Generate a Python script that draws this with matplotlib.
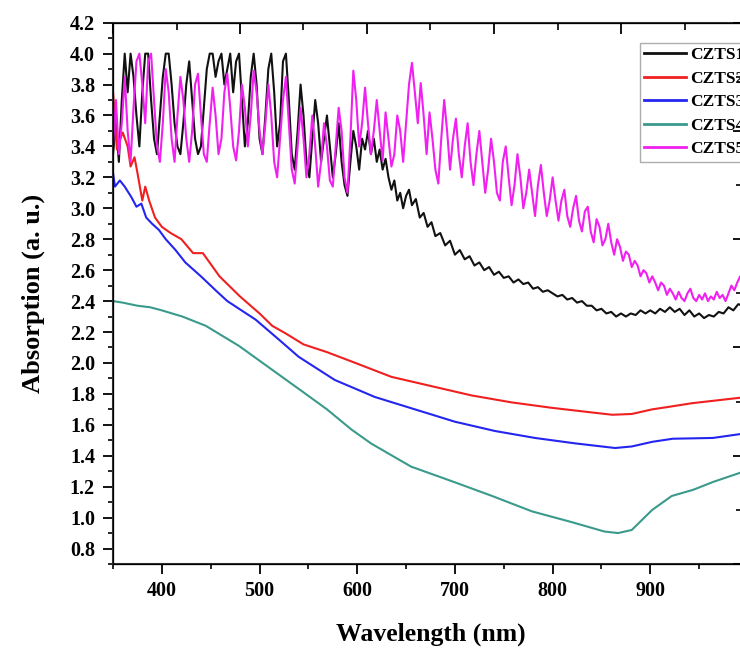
import numpy as np
import matplotlib
matplotlib.use("Agg")
import matplotlib.pyplot as plt
from matplotlib.ticker import MultipleLocator, FixedLocator, NullFormatter, FormatStrFormatter

plt.rcParams['font.family'] = ['Liberation Serif', 'DejaVu Serif']
plt.rcParams['font.weight'] = 'bold'

# ---- data (wavelength nm, absorption a.u.) ----
czts1_nm = [350, 353, 356, 359, 362, 365, 368, 371, 374, 377, 380, 383, 386, 389, 392, 395, 398,
            401, 404, 407, 410, 413, 416, 419, 422, 425, 428, 431, 434, 437, 440, 443, 446, 449,
            452, 455, 458, 461, 464, 467, 470, 473, 476, 479, 482, 485, 488, 491, 494, 497, 500,
            503, 506, 509, 512, 515, 518, 521, 524, 527, 530, 533, 536, 539, 542, 545, 548, 551,
            554, 557, 560, 563, 566, 569, 572, 575, 578, 581, 584, 587, 590, 593, 596, 599, 602,
            605, 608, 611, 614, 617, 620, 623, 626, 629, 632, 635, 638, 641, 644, 647, 650, 653,
            656, 660, 664, 668, 672, 676, 680, 685, 690, 695, 700, 705, 710, 715, 720, 725, 730,
            735, 740, 745, 750, 755, 760, 765, 770, 775, 780, 785, 790, 795, 800, 805, 810, 815,
            820, 825, 830, 835, 840, 845, 850, 855, 860, 865, 870, 875, 880, 885, 890, 895, 900,
            905, 910, 915, 920, 925, 930, 935, 940, 945, 950, 955, 960, 965, 970, 975, 980, 985,
            990, 995, 1000]
czts1_abs = [3.35, 3.55, 3.30, 3.70, 4.00, 3.75, 4.00, 3.85, 3.60, 3.40, 3.75, 4.00, 4.00, 3.70,
             3.45, 3.35, 3.60, 3.85, 4.00, 4.00, 3.80, 3.55, 3.40, 3.35, 3.55, 3.80, 3.95, 3.70,
             3.45, 3.35, 3.40, 3.65, 3.90, 4.00, 4.00, 3.85, 3.95, 4.00, 3.80, 3.90, 4.00, 3.75,
             3.95, 4.00, 3.70, 3.40, 3.55, 3.85, 4.00, 3.80, 3.45, 3.35, 3.60, 3.90, 4.00, 3.75,
             3.40, 3.55, 3.95, 4.00, 3.70, 3.35, 3.25, 3.50, 3.80, 3.60, 3.30, 3.20, 3.45, 3.70,
             3.55, 3.30, 3.45, 3.60, 3.40, 3.20, 3.35, 3.55, 3.30, 3.15, 3.08, 3.30, 3.50, 3.40,
             3.25, 3.45, 3.38, 3.50, 3.35, 3.45, 3.30, 3.38, 3.25, 3.32, 3.20, 3.12, 3.18, 3.05,
             3.10, 3.00, 3.08, 3.12, 3.02, 3.06, 2.94, 2.97, 2.88, 2.91, 2.82, 2.84, 2.76, 2.79,
             2.70, 2.73, 2.67, 2.69, 2.63, 2.65, 2.60, 2.62, 2.57, 2.59, 2.55, 2.56, 2.52, 2.54,
             2.51, 2.52, 2.48, 2.49, 2.46, 2.47, 2.45, 2.43, 2.44, 2.41, 2.42, 2.39, 2.40, 2.37,
             2.37, 2.34, 2.35, 2.32, 2.33, 2.30, 2.32, 2.30, 2.32, 2.31, 2.34, 2.32, 2.34, 2.32,
             2.35, 2.33, 2.36, 2.33, 2.35, 2.31, 2.34, 2.30, 2.32, 2.29, 2.31, 2.30, 2.33, 2.32,
             2.36, 2.34, 2.38, 2.37, 2.39]

czts2_nm = [350, 352, 354, 357, 360, 365, 368, 372, 375, 380, 383, 387, 393, 400, 409, 420, 432,
            442, 459, 480, 500, 513, 527, 545, 569, 594, 635, 676, 717, 758, 799, 840, 861, 881,
            902, 923, 943, 964, 992, 1000]
czts2_abs = [3.75, 3.59, 3.38, 3.44, 3.49, 3.40, 3.27, 3.33, 3.23, 3.05, 3.14, 3.05, 2.94, 2.88,
             2.84, 2.80, 2.71, 2.71, 2.56, 2.43, 2.32, 2.24, 2.19, 2.12, 2.07, 2.01, 1.91, 1.85,
             1.79, 1.745, 1.71, 1.68, 1.665, 1.67, 1.70, 1.72, 1.74, 1.755, 1.775, 1.78]

czts3_nm = [350, 352, 357, 362, 369, 374, 379, 384, 390, 397, 404, 414, 424, 440, 455, 467, 496,
            520, 540, 577, 618, 659, 700, 741, 782, 823, 864, 881, 902, 923, 964, 992, 1000]
czts3_abs = [3.23, 3.14, 3.18, 3.14, 3.07, 3.01, 3.03, 2.94, 2.90, 2.86, 2.80, 2.73, 2.65, 2.56,
             2.47, 2.40, 2.28, 2.15, 2.04, 1.89, 1.78, 1.70, 1.62, 1.56, 1.515, 1.48, 1.45,
             1.46, 1.49, 1.51, 1.515, 1.54, 1.55]

czts4_nm = [350, 360, 375, 388, 400, 421, 445, 479, 512, 545, 569, 594, 614, 655, 697, 738, 779,
            820, 853, 867, 881, 902, 922, 944, 964, 992, 1000]
czts4_abs = [2.40, 2.39, 2.37, 2.36, 2.34, 2.30, 2.24, 2.11, 1.96, 1.81, 1.70, 1.57, 1.48, 1.33,
             1.235, 1.14, 1.04, 0.97, 0.91, 0.90, 0.92, 1.05, 1.14, 1.18, 1.23, 1.29, 1.30]

czts5_nm = [350, 353, 356, 359, 362, 365, 368, 371, 374, 377, 380, 383, 386, 389, 392, 395, 398,
            401, 404, 407, 410, 413, 416, 419, 422, 425, 428, 431, 434, 437, 440, 443, 446, 449,
            452, 455, 458, 461, 464, 467, 470, 473, 476, 479, 482, 485, 488, 491, 494, 497, 500,
            503, 506, 509, 512, 515, 518, 521, 524, 527, 530, 533, 536, 539, 542, 545, 548, 551,
            554, 557, 560, 563, 566, 569, 572, 575, 578, 581, 584, 587, 590, 593, 596, 599, 602,
            605, 608, 611, 614, 617, 620, 623, 626, 629, 632, 635, 638, 641, 644, 647, 650, 653,
            656, 659, 662, 665, 668, 671, 674, 677, 680, 683, 686, 689, 692, 695, 698, 701, 704,
            707, 710, 713, 716, 719, 722, 725, 728, 731, 734, 737, 740, 743, 746, 749, 752, 755,
            758, 761, 764, 767, 770, 773, 776, 779, 782, 785, 788, 791, 794, 797, 800, 803, 806,
            809, 812, 815, 818, 821, 824, 827, 830, 833, 836, 839, 842, 845, 848, 851, 854, 857,
            860, 863, 866, 869, 872, 875, 878, 881, 884, 887, 890, 893, 896, 899, 902, 905, 908,
            911, 914, 917, 920, 923, 926, 929, 932, 935, 938, 941, 944, 947, 950, 953, 956, 959,
            962, 965, 968, 971, 974, 977, 980, 983, 986, 989, 992, 995, 998, 1000]
czts5_abs = [3.40, 3.70, 3.35, 3.55, 3.85, 3.50, 3.30, 3.65, 3.95, 4.00, 3.80, 3.55, 3.95, 4.00,
             3.70, 3.40, 3.30, 3.55, 3.90, 3.75, 3.45, 3.30, 3.60, 3.85, 3.70, 3.45, 3.30, 3.50,
             3.80, 3.87, 3.60, 3.35, 3.30, 3.55, 3.78, 3.60, 3.35, 3.45, 3.75, 3.87, 3.65, 3.40,
             3.31, 3.50, 3.80, 3.65, 3.40, 3.60, 3.89, 3.75, 3.50, 3.35, 3.55, 3.80, 3.60, 3.30,
             3.20, 3.45, 3.70, 3.85, 3.55, 3.25, 3.16, 3.40, 3.65, 3.45, 3.20, 3.35, 3.60, 3.40,
             3.14, 3.30, 3.55, 3.40, 3.18, 3.14, 3.40, 3.65, 3.50, 3.20, 3.10, 3.45, 3.89, 3.70,
             3.40, 3.55, 3.78, 3.55, 3.35, 3.50, 3.70, 3.50, 3.31, 3.62, 3.45, 3.27, 3.35, 3.60,
             3.50, 3.30, 3.55, 3.80, 3.94, 3.75, 3.55, 3.81, 3.60, 3.35, 3.62, 3.45, 3.25, 3.16,
             3.45, 3.70, 3.50, 3.25, 3.45, 3.58, 3.35, 3.20, 3.40, 3.55, 3.30, 3.15, 3.35, 3.50,
             3.30, 3.10, 3.25, 3.45, 3.30, 3.10, 3.05, 3.30, 3.40, 3.20, 3.02, 3.15, 3.35, 3.20,
             3.00, 3.10, 3.25, 3.10, 2.95, 3.15, 3.28, 3.10, 2.95, 3.05, 3.20, 3.05, 2.92, 3.05,
             3.12, 2.95, 2.88, 3.00, 3.08, 2.92, 2.85, 2.98, 3.01, 2.85, 2.78, 2.93, 2.88, 2.76,
             2.80, 2.90, 2.78, 2.70, 2.80, 2.75, 2.66, 2.72, 2.70, 2.62, 2.66, 2.63, 2.56, 2.60,
             2.58, 2.52, 2.56, 2.52, 2.47, 2.52, 2.50, 2.44, 2.48, 2.45, 2.41, 2.46, 2.42, 2.40,
             2.45, 2.48, 2.42, 2.40, 2.44, 2.41, 2.45, 2.40, 2.43, 2.41, 2.46, 2.42, 2.44, 2.40,
             2.45, 2.50, 2.47, 2.52, 2.56, 2.54, 2.58, 2.57]

xtick_vals = [400, 500, 600, 700, 800, 900]

series = [("CZTS1", czts1_nm, czts1_abs, "#111111"),
          ("CZTS2", czts2_nm, czts2_abs, "#f02020"),
          ("CZTS3", czts3_nm, czts3_abs, "#2525f0"),
          ("CZTS4", czts4_nm, czts4_abs, "#3a9a8c"),
          ("CZTS5", czts5_nm, czts5_abs, "#f020f0")]

fig = plt.figure(figsize=(7.4, 6.48), dpi=100)
ax = fig.add_axes([113 / 740, 1 - 564 / 648, 635 / 740, 541.3 / 648])

for name, x, y, col in series:
    ax.plot(x, y, color=col, lw=1.5, label=name)

ax.set_xlim(350, 1000)
ax.set_ylim(0.7, 4.2)
ax.xaxis.set_major_locator(FixedLocator(xtick_vals))
ax.xaxis.set_minor_locator(MultipleLocator(50))
ax.yaxis.set_major_locator(MultipleLocator(0.2))
ax.yaxis.set_minor_locator(MultipleLocator(0.1))
ax.yaxis.set_major_formatter(FormatStrFormatter('%.1f'))
ax.tick_params(which='major', direction='out', length=7, width=1.3, labelsize=14.5, pad=5)
ax.tick_params(axis='y', which='major', pad=6)
ax.tick_params(which='minor', direction='out', length=3.5, width=1.2)
for lab in ax.get_xticklabels() + ax.get_yticklabels():
    lab.set_fontweight('bold')
for sp in ax.spines.values():
    sp.set_linewidth(1.5)
    sp.set_color('#333333')

# top axis ticks (no labels)
axt = ax.twiny()
axt.set_xlim(350, 1000)
axt.xaxis.set_major_locator(FixedLocator(np.arange(350, 1001, 130)))
axt.xaxis.set_minor_locator(FixedLocator(np.arange(415, 1001, 130)))
axt.xaxis.set_major_formatter(NullFormatter())
axt.tick_params(which='major', direction='in', length=8, width=1.3)
axt.tick_params(which='minor', direction='in', length=5, width=1.2)

# right axis ticks (no labels)
axr = ax.twinx()
axr.set_ylim(0.7, 4.2)
axr.yaxis.set_major_locator(MultipleLocator(0.7))
axr.yaxis.set_minor_locator(MultipleLocator(0.35))
axr.yaxis.set_major_formatter(NullFormatter())
axr.tick_params(which='major', direction='in', length=11, width=1.3)
axr.tick_params(which='minor', direction='in', length=9, width=1.2)

ax.set_xlabel('Wavelength (nm)', fontsize=18.5, fontweight='bold', labelpad=16)
ax.set_ylabel('Absorption (a. u.)', fontsize=19, fontweight='bold', labelpad=18)

leg = ax.legend(loc='upper left', bbox_to_anchor=(640 / 740, 1 - 43 / 648),
                bbox_transform=fig.transFigure, fontsize=12.5, frameon=True, fancybox=False,
                handlelength=2.4, handletextpad=0.25, labelspacing=0.42, borderpad=0.25,
                borderaxespad=0)
leg.get_frame().set_edgecolor('#999999')
leg.get_frame().set_linewidth(1.0)
for t in leg.get_texts():
    t.set_fontweight('bold')
for l in leg.get_lines():
    l.set_linewidth(2.0)

fig.savefig('out.png', dpi=100)
